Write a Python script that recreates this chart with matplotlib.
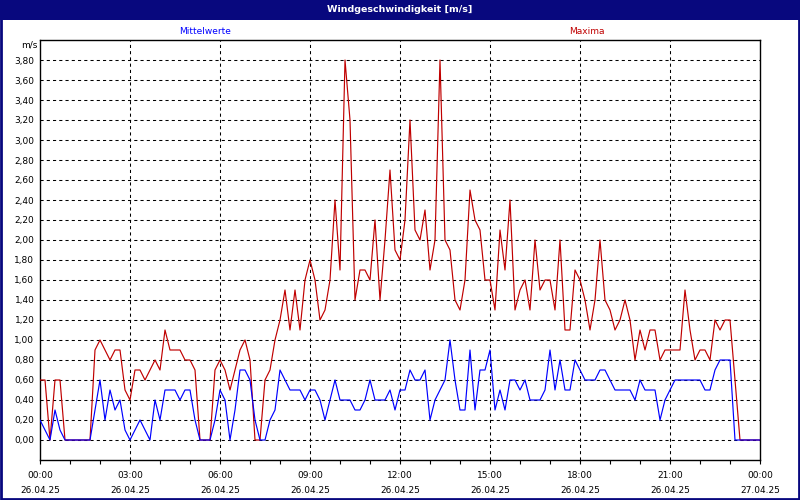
import matplotlib
matplotlib.use("Agg")
import matplotlib.pyplot as plt
import numpy as np
from matplotlib.patches import Rectangle
from matplotlib.ticker import FixedLocator, FuncFormatter

# 10-minute values from 00:00 (26.04.25) to 00:00 (27.04.25)
maxima = [
    0.6, 0.6, 0.0, 0.6, 0.6, 0.0, 0.0, 0.0, 0.0, 0.0, 0.0, 0.9, 1.0, 0.9, 0.8, 0.9, 0.9, 0.5, 0.4, 0.7,
    0.7, 0.6, 0.7, 0.8, 0.7, 1.1, 0.9, 0.9, 0.9, 0.8, 0.8, 0.7, 0.0, 0.0, 0.0, 0.7, 0.8, 0.7, 0.5, 0.7,
    0.9, 1.0, 0.8, 0.0, 0.0, 0.6, 0.7, 1.0, 1.2, 1.5, 1.1, 1.5, 1.1, 1.6, 1.8, 1.6, 1.2, 1.3, 1.6, 2.4,
    1.7, 3.8, 3.2, 1.4, 1.7, 1.7, 1.6, 2.2, 1.4, 2.0, 2.7, 1.9, 1.8, 2.2, 3.2, 2.1, 2.0, 2.3, 1.7, 2.0,
    3.8, 2.0, 1.9, 1.4, 1.3, 1.6, 2.5, 2.2, 2.1, 1.6, 1.6, 1.3, 2.1, 1.7, 2.4, 1.3, 1.5, 1.6, 1.3, 2.0,
    1.5, 1.6, 1.6, 1.3, 2.0, 1.1, 1.1, 1.7, 1.6, 1.4, 1.1, 1.4, 2.0, 1.4, 1.3, 1.1, 1.2, 1.4, 1.2, 0.8,
    1.1, 0.9, 1.1, 1.1, 0.8, 0.9, 0.9, 0.9, 0.9, 1.5, 1.1, 0.8, 0.9, 0.9, 0.8, 1.2, 1.1, 1.2, 1.2, 0.6,
    0.0, 0.0, 0.0, 0.0, 0.0,
]
mittelwerte = [
    0.2, 0.1, 0.0, 0.3, 0.1, 0.0, 0.0, 0.0, 0.0, 0.0, 0.0, 0.3, 0.6, 0.2, 0.5, 0.3, 0.4, 0.1, 0.0, 0.1,
    0.2, 0.1, 0.0, 0.4, 0.2, 0.5, 0.5, 0.5, 0.4, 0.5, 0.5, 0.2, 0.0, 0.0, 0.0, 0.2, 0.5, 0.4, 0.0, 0.3,
    0.7, 0.7, 0.6, 0.2, 0.0, 0.0, 0.2, 0.3, 0.7, 0.6, 0.5, 0.5, 0.5, 0.4, 0.5, 0.5, 0.4, 0.2, 0.4, 0.6,
    0.4, 0.4, 0.4, 0.3, 0.3, 0.4, 0.6, 0.4, 0.4, 0.4, 0.5, 0.3, 0.5, 0.5, 0.7, 0.6, 0.6, 0.7, 0.2, 0.4,
    0.5, 0.6, 1.0, 0.6, 0.3, 0.3, 0.9, 0.3, 0.7, 0.7, 0.9, 0.3, 0.5, 0.3, 0.6, 0.6, 0.5, 0.6, 0.4, 0.4,
    0.4, 0.5, 0.9, 0.5, 0.8, 0.5, 0.5, 0.8, 0.7, 0.6, 0.6, 0.6, 0.7, 0.7, 0.6, 0.5, 0.5, 0.5, 0.5, 0.4,
    0.6, 0.5, 0.5, 0.5, 0.2, 0.4, 0.5, 0.6, 0.6, 0.6, 0.6, 0.6, 0.6, 0.5, 0.5, 0.7, 0.8, 0.8, 0.8, 0.0,
    0.0, 0.0, 0.0, 0.0, 0.0,
]
tick_hours = [0, 3, 6, 9, 12, 15, 18, 21, 24]
tick_labels = ["00:00\n26.04.25", "03:00\n26.04.25", "06:00\n26.04.25", "09:00\n26.04.25",
               "12:00\n26.04.25", "15:00\n26.04.25", "18:00\n26.04.25", "21:00\n26.04.25",
               "00:00\n27.04.25"]
y_ticks = [round(0.2 * k, 1) for k in range(20)]

hours = np.arange(len(maxima)) / 6.0

NAVY = "#08087e"
RED = "#c00000"
BLUE = "#0000ff"

plt.rcParams['font.family'] = ['DejaVu Sans']
fig = plt.figure(figsize=(8, 5), dpi=100)
fig.patch.set_facecolor("white")

ax = fig.add_axes([0.05, 0.08, 0.90, 0.84])
ax.plot(hours, maxima, color=RED, lw=0.85, zorder=3)
ax.plot(hours, mittelwerte, color=BLUE, lw=0.85, zorder=3)

ax.set_xlim(0, 24)
ax.set_ylim(-0.2, 4.0)

ax.xaxis.set_major_locator(FixedLocator(tick_hours))
ax.set_xticklabels(tick_labels, fontsize=6.5, linespacing=1.9)
ax.xaxis.set_minor_locator(FixedLocator(list(range(25))))
ax.tick_params(axis="x", which="both", direction="out", length=3, width=0.8, pad=5, colors="black")
ax.set_yticks(y_ticks)
ax.yaxis.set_major_formatter(FuncFormatter(lambda v, p: f"{v:.2f}".replace(".", ",")))
ax.tick_params(axis="y", length=0, pad=4, labelsize=6.5)

for y in y_ticks:
    ax.axhline(y, color="black", lw=0.75, ls=(0, (3, 3)), zorder=1)
for h in tick_hours[1:-1]:
    ax.axvline(h, color="black", lw=0.75, ls=(0, (3, 3)), zorder=1)

for s in ax.spines.values():
    s.set_color("black")
    s.set_linewidth(1.0)

# title bar
fig.patches.append(Rectangle((0, 1 - 20 / 500), 1, 20 / 500, transform=fig.transFigure,
                             facecolor=NAVY, edgecolor="none", zorder=0))
fig.patches.append(Rectangle((0.001, 0.002), 0.998, 0.996, transform=fig.transFigure,
                             facecolor="none", edgecolor=NAVY, lw=2, zorder=5))
fig.text(0.5, 1 - 10 / 500, "Windgeschwindigkeit [m/s]", color="white", fontsize=6.8,
         fontweight="bold", ha="center", va="center")
fig.text(205 / 800, 1 - 31 / 500, "Mittelwerte", color=BLUE, fontsize=6.5, ha="center", va="center")
fig.text(587 / 800, 1 - 31 / 500, "Maxima", color=RED, fontsize=6.5, ha="center", va="center")
fig.text(37 / 800, 1 - 45 / 500, "m/s", color="black", fontsize=6.5, ha="right", va="center")

fig.savefig("out.png", dpi=100, facecolor="white")
